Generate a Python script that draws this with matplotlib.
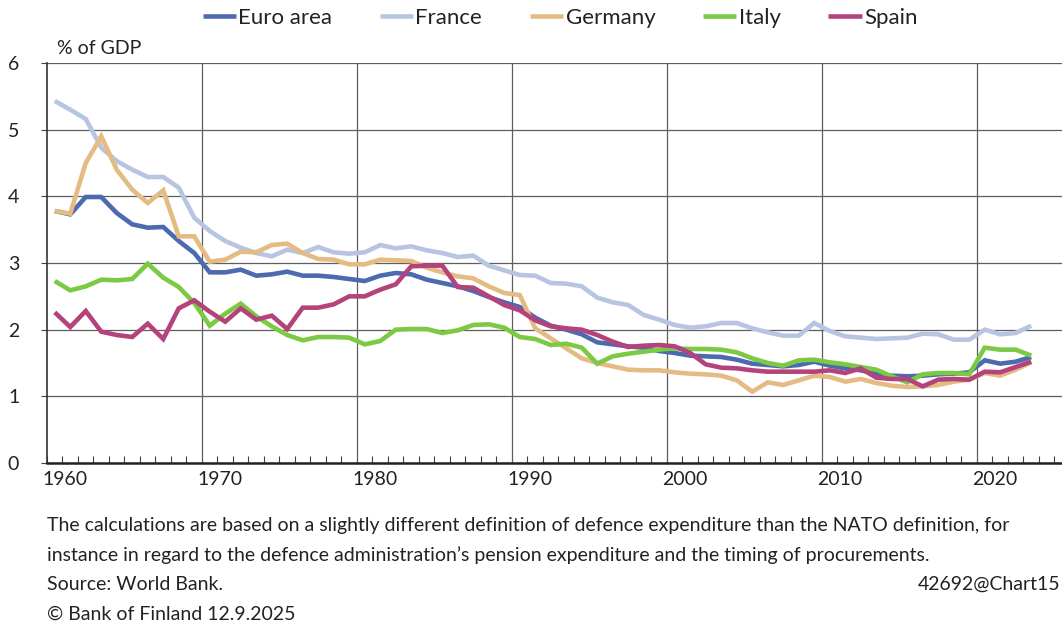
import matplotlib
matplotlib.use("Agg")
import matplotlib.pyplot as plt
from matplotlib.ticker import FixedLocator, MultipleLocator
import numpy as np

years = list(range(1960, 2024))

euro_area = [3.78, 3.73, 3.99, 3.99, 3.75, 3.58, 3.53, 3.54, 3.33, 3.15,
             2.86, 2.86, 2.90, 2.81, 2.83, 2.87, 2.81, 2.81, 2.79, 2.76,
             2.73, 2.81, 2.85, 2.83, 2.75, 2.70, 2.65, 2.58, 2.49, 2.41,
             2.34, 2.18, 2.06, 2.00, 1.93, 1.81, 1.78, 1.75, 1.73, 1.68,
             1.65, 1.61, 1.60, 1.59, 1.55, 1.49, 1.47, 1.45, 1.47, 1.52,
             1.46, 1.42, 1.39, 1.34, 1.31, 1.30, 1.31, 1.33, 1.34, 1.36,
             1.54, 1.49, 1.52, 1.59]

france = [5.43, 5.30, 5.16, 4.73, 4.53, 4.40, 4.29, 4.29, 4.13, 3.68,
          3.48, 3.33, 3.23, 3.15, 3.10, 3.20, 3.15, 3.24, 3.16, 3.14,
          3.16, 3.27, 3.22, 3.25, 3.19, 3.15, 3.09, 3.11, 2.96, 2.89,
          2.82, 2.81, 2.70, 2.69, 2.65, 2.48, 2.41, 2.37, 2.22, 2.15,
          2.07, 2.03, 2.05, 2.10, 2.10, 2.02, 1.96, 1.91, 1.91, 2.10,
          1.98, 1.90, 1.88, 1.86, 1.87, 1.88, 1.94, 1.93, 1.85, 1.85,
          2.00, 1.93, 1.95, 2.06]

germany = [3.78, 3.74, 4.50, 4.90, 4.40, 4.10, 3.90, 4.09, 3.40, 3.40,
           3.02, 3.05, 3.17, 3.16, 3.27, 3.29, 3.15, 3.06, 3.05, 2.98,
           2.98, 3.05, 3.04, 3.03, 2.93, 2.86, 2.80, 2.77, 2.65, 2.55,
           2.52, 2.02, 1.87, 1.72, 1.57, 1.50, 1.45, 1.40, 1.39, 1.39,
           1.36, 1.34, 1.33, 1.31, 1.24, 1.07, 1.21, 1.17, 1.24, 1.31,
           1.29, 1.22, 1.26, 1.20, 1.16, 1.14, 1.15, 1.17, 1.22, 1.25,
           1.35, 1.31, 1.40, 1.51]

italy = [2.73, 2.59, 2.65, 2.75, 2.74, 2.76, 2.99, 2.78, 2.64, 2.40,
         2.06, 2.24, 2.39, 2.20, 2.05, 1.92, 1.84, 1.89, 1.89, 1.88,
         1.78, 1.83, 2.00, 2.01, 2.01, 1.95, 1.99, 2.07, 2.08, 2.03,
         1.89, 1.86, 1.77, 1.79, 1.73, 1.49, 1.60, 1.64, 1.67, 1.70,
         1.72, 1.71, 1.71, 1.70, 1.66, 1.57, 1.50, 1.46, 1.54, 1.55,
         1.51, 1.48, 1.44, 1.40, 1.30, 1.21, 1.33, 1.35, 1.35, 1.33,
         1.73, 1.70, 1.70, 1.61]

spain = [2.26, 2.04, 2.28, 1.97, 1.92, 1.89, 2.09, 1.86, 2.32, 2.44,
         2.27, 2.12, 2.32, 2.15, 2.21, 2.01, 2.33, 2.33, 2.38, 2.50,
         2.50, 2.60, 2.68, 2.95, 2.96, 2.96, 2.64, 2.63, 2.50, 2.37,
         2.29, 2.14, 2.05, 2.02, 2.00, 1.92, 1.82, 1.74, 1.76, 1.77,
         1.75, 1.65, 1.48, 1.43, 1.42, 1.39, 1.37, 1.37, 1.37, 1.37,
         1.39, 1.35, 1.42, 1.28, 1.26, 1.26, 1.15, 1.25, 1.26, 1.25,
         1.37, 1.36, 1.44, 1.52]

series_names = ["Euro area", "France", "Germany", "Italy", "Spain"]
series_values = [euro_area, france, germany, italy, spain]
series_colors = ["#4d6ab0", "#b8c5e2", "#e5bb84", "#7cc943", "#b5437b"]

decade_labels = ["1960", "1970", "1980", "1990", "2000", "2010", "2020"]
y_ticks = [0, 1, 2, 3, 4, 5, 6]

FONT = "Lato"
plt.rcParams["font.family"] = [FONT, "DejaVu Sans"]

W, H = 1062, 630
fig = plt.figure(figsize=(W / 100, H / 100), dpi=100)

left_px, top_px, bottom_px = 47, 63, 463
px_per_year = 15.5
x0, x1 = 1960, 2026
width_px = (x1 - x0) * px_per_year
ax = fig.add_axes([left_px / W, (H - bottom_px) / H, width_px / W, (bottom_px - top_px) / H])

x = np.array(years) + 0.5
for name, vals, col in zip(series_names, series_values, series_colors):
    ax.plot(x, vals, color=col, lw=3.3, label=name, solid_joinstyle="miter",
            solid_capstyle="butt", zorder=3)

ax.set_xlim(x0, x1)
ax.set_ylim(0, 6)

# gridlines
ax.xaxis.set_major_locator(FixedLocator([1970, 1980, 1990, 2000, 2010, 2020]))
ax.xaxis.set_minor_locator(MultipleLocator(1))
ax.grid(True, which="major", axis="both", color="#5e5e5e", lw=0.9, zorder=1)
ax.set_xticklabels([])
ax.tick_params(axis="x", which="major", length=0)
ax.tick_params(axis="x", which="minor", direction="in", length=5, width=0.8, color="#404040")

ax.set_yticks(y_ticks)
ax.set_yticklabels([str(v) for v in y_ticks], fontsize=14, color="#222222")
ax.tick_params(axis="y", which="major", direction="out", length=4, width=0.8,
               color="#404040", pad=16)

for s in ["top", "right"]:
    ax.spines[s].set_visible(False)
ax.spines["left"].set_color("#333333")
ax.spines["left"].set_linewidth(1.2)
ax.spines["bottom"].set_color("#222222")
ax.spines["bottom"].set_linewidth(1.8)

# decade labels
for lab in decade_labels:
    ax.text(int(lab) + 1.15, -0.25, lab, ha="center", va="center", fontsize=14,
            color="#222222", transform=ax.transData, clip_on=False)

# unit label
fig.text(57 / W, 1 - 48 / H, "% of GDP", ha="left", va="center", fontsize=14, color="#222222")

# legend
leg_fs = 16
leg = fig.legend(loc="center", bbox_to_anchor=(560 / W, 1 - 18 / H), ncol=5, frameon=False,
                 fontsize=leg_fs, handlelength=1.5, handletextpad=0.1, columnspacing=2.15,
                 borderaxespad=0, borderpad=0)
for t in leg.get_texts():
    t.set_color("#222222")

# footer
foot_fs = 14
fig.text(47 / W, 1 - 525 / H,
         "The calculations are based on a slightly different definition of defence expenditure than the NATO definition, for",
         ha="left", va="center", fontsize=foot_fs, color="#222222")
fig.text(47 / W, 1 - 555 / H,
         "instance in regard to the defence administration\u2019s pension expenditure and the timing of procurements.",
         ha="left", va="center", fontsize=foot_fs, color="#222222")
fig.text(47 / W, 1 - 584 / H, "Source: World Bank.", ha="left", va="center", fontsize=foot_fs, color="#222222")
fig.text(47 / W, 1 - 614 / H, "\u00a9 Bank of Finland 12.9.2025", ha="left", va="center", fontsize=foot_fs, color="#222222")
fig.text(1060 / W, 1 - 584 / H, "42692@Chart15", ha="right", va="center", fontsize=14, color="#222222")

fig.savefig("out.png", dpi=100)
